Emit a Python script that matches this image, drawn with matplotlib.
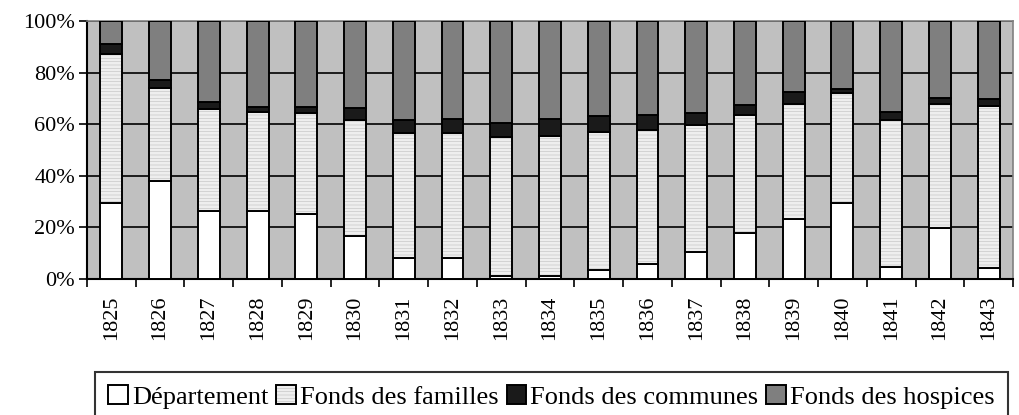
import matplotlib
matplotlib.use("Agg")
import matplotlib.pyplot as plt
import numpy as np

years = [str(y) for y in range(1825, 1844)]
# cumulative tops (in %)
departement = [29.4, 37.8, 26.2, 26.2, 25.3, 16.8, 8.3, 8.3, 1.2, 1.2, 3.6, 6.0,
               10.6, 17.8, 23.2, 29.4, 4.5, 19.9, 4.4]
top_familles = [87.4, 74.1, 65.7, 64.8, 64.2, 61.7, 56.4, 56.4, 54.9, 55.6, 57.0, 57.8,
                59.5, 63.4, 68.0, 71.9, 61.8, 68.0, 67.2]
top_communes = [90.9, 77.0, 68.5, 66.7, 66.7, 66.1, 61.5, 62.1, 60.5, 62.2, 63.1, 63.7,
                64.5, 67.6, 72.3, 73.7, 64.6, 70.0, 69.8]

dep = np.array(departement)
fam = np.array(top_familles) - dep
com = np.array(top_communes) - np.array(top_familles)
hos = 100 - np.array(top_communes)

plt.rcParams["font.family"] = ["Liberation Serif", "DejaVu Serif"]
plt.rcParams["hatch.linewidth"] = 0.4

fig = plt.figure(figsize=(10.19, 4.15), dpi=100)
ax = fig.add_axes([87 / 1019, 1 - 279 / 415, (1013 - 87) / 1019, (279 - 21) / 415])
ax.set_facecolor("#c0c0c0")

x = np.arange(len(years))
w = 0.45
kw = dict(width=w, edgecolor="black", linewidth=1.4, zorder=3)
b1 = ax.bar(x, dep, color="white", label="Département", **kw)
b2 = ax.bar(x, fam, bottom=dep, color="#eeeeee", hatch="-----", label="Fonds des familles", **kw)
b3 = ax.bar(x, com, bottom=dep + fam, color="#1a1a1a", label="Fonds des communes", **kw)
b4 = ax.bar(x, hos, bottom=dep + fam + com, color="#7f7f7f", label="Fonds des hospices", **kw)
for b in b2:
    b._hatch_color = (0.75, 0.75, 0.75, 1)

ax.set_ylim(0, 100)
ax.set_xlim(-0.5, len(years) - 0.5)
ax.set_yticks(range(0, 101, 20))
ax.set_yticklabels([f"{v}%" for v in range(0, 101, 20)], fontsize=16)
ax.yaxis.grid(True, color="black", linewidth=1.2, zorder=1)
ax.set_axisbelow(True)

ax.set_xticks(np.arange(-0.5, len(years), 1.0))
ax.set_xticklabels([])
ax.set_xticks(x, minor=True)
ax.set_xticklabels(years, minor=True, rotation=90, fontsize=16)
ax.tick_params(axis="x", which="major", length=5.5, width=1.2, direction="out")
ax.tick_params(axis="x", which="minor", length=0, pad=12)
ax.tick_params(axis="y", length=5.5, width=1.2, direction="out", pad=3)

for side in ("left", "bottom"):
    ax.spines[side].set_linewidth(1.5)
    ax.spines[side].set_color("black")
for side in ("top", "right"):
    ax.spines[side].set_color("#808080")
    ax.spines[side].set_linewidth(1.2)

leg = fig.legend(handles=[b1, b2, b3, b4], loc="upper left",
                 bbox_to_anchor=(95 / 1019, 1 - 372 / 415),
                 ncol=4, fontsize=19, frameon=True, fancybox=False, edgecolor="black",
                 handlelength=0.75, handleheight=0.7, handletextpad=0.15,
                 columnspacing=0.3, borderpad=0.5, borderaxespad=0)
leg.get_frame().set_linewidth(1.5)

fig.savefig("out.png", dpi=100)
